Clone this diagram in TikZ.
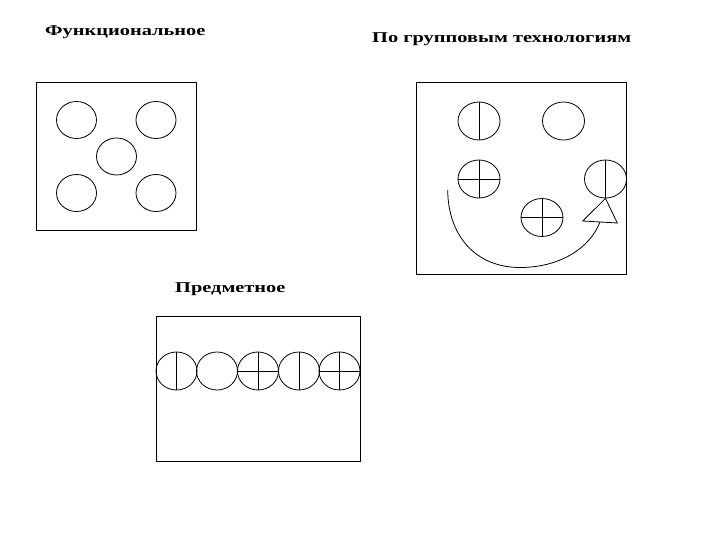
\documentclass[tikz,border=0pt]{standalone}
\usepackage{fontspec}
\usepackage{graphicx}
\setmainfont{Liberation Serif}
\usetikzlibrary{shapes.geometric}
\newcommand{\widetitle}[1]{\scalebox{1.36}[1]{#1}}
\begin{document}
\begin{tikzpicture}[x=1pt,y=-1pt,
  frame/.style={draw,line width=0.8pt},
  circA/.style={ellipse,draw,line width=0.8pt,minimum width=40pt,minimum height=37pt,inner sep=0pt},
  circB/.style={ellipse,draw,line width=0.8pt,minimum width=42pt,minimum height=38pt,inner sep=0pt},
  mark line/.style={line width=0.8pt},
  title/.style={anchor=base west,inner sep=0pt,font=\fontsize{15}{18}\selectfont\bfseries}]
\useasboundingbox (0,0) rectangle (720,540);
% titles
\node[title] (t1) at (45,35.5) {\widetitle{Функциональное}};
\node[title] (t2) at (372,43) {\widetitle{По групповым технологиям}};
\node[title] (t3) at (175,292.5) {\widetitle{Предметное}};
% box 1
\draw[frame] (36.5,82) rectangle (196,230.5);
\node[circA] (a1) at (76.5,120) {};
\node[circA] (a2) at (156,120) {};
\node[circA] (a3) at (116.5,156.5) {};
\node[circA] (a4) at (76.5,193) {};
\node[circA] (a5) at (156,193) {};
% box 2
\draw[frame] (416.5,82.5) rectangle (626.5,274.5);
\node[circB] (b1) at (479,121) {};
\draw[mark line] (b1.north) -- (b1.south);
\node[circB] (b2) at (563.5,121) {};
\node[circB] (b3) at (479,179) {};
\draw[mark line] (b3.north) -- (b3.south) (b3.west) -- (b3.east);
\node[circB] (b4) at (542,217.5) {};
\draw[mark line] (b4.north) -- (b4.south) (b4.west) -- (b4.east);
\node[circB] (b5) at (605.5,179) {};
\draw[mark line] (b5.north) -- (b5.south);
\coordinate (tl) at (582.7,221);
\coordinate (tr) at (617.3,223);
\draw[mark line] (b5.south) -- (tl) -- (tr) -- cycle;
\coordinate (arcstart) at (447.7,190);
\coordinate (arcbot) at (520,267.5);
\coordinate (arcend) at (600,222);
\draw[mark line] (arcstart) .. controls (448,235) and (475,267.5) .. (arcbot)
  .. controls (560,267.5) and (590,248) .. (arcend);
% box 3
\draw[frame] (156,316) rectangle (360,461.5);
\node[circB,minimum width=41pt] (c1) at (176.5,371) {};
\draw[mark line] (c1.north) -- (c1.south);
\node[circB,minimum width=41pt] (c2) at (217,371) {};
\node[circB,minimum width=41pt] (c3) at (258,371) {};
\draw[mark line] (c3.north) -- (c3.south) (c3.west) -- (c3.east);
\node[circB,minimum width=41pt] (c4) at (299,371) {};
\draw[mark line] (c4.north) -- (c4.south);
\node[circB,minimum width=41pt] (c5) at (339.5,371) {};
\draw[mark line] (c5.north) -- (c5.south) (c5.west) -- (c5.east);
\end{tikzpicture}
\end{document}
